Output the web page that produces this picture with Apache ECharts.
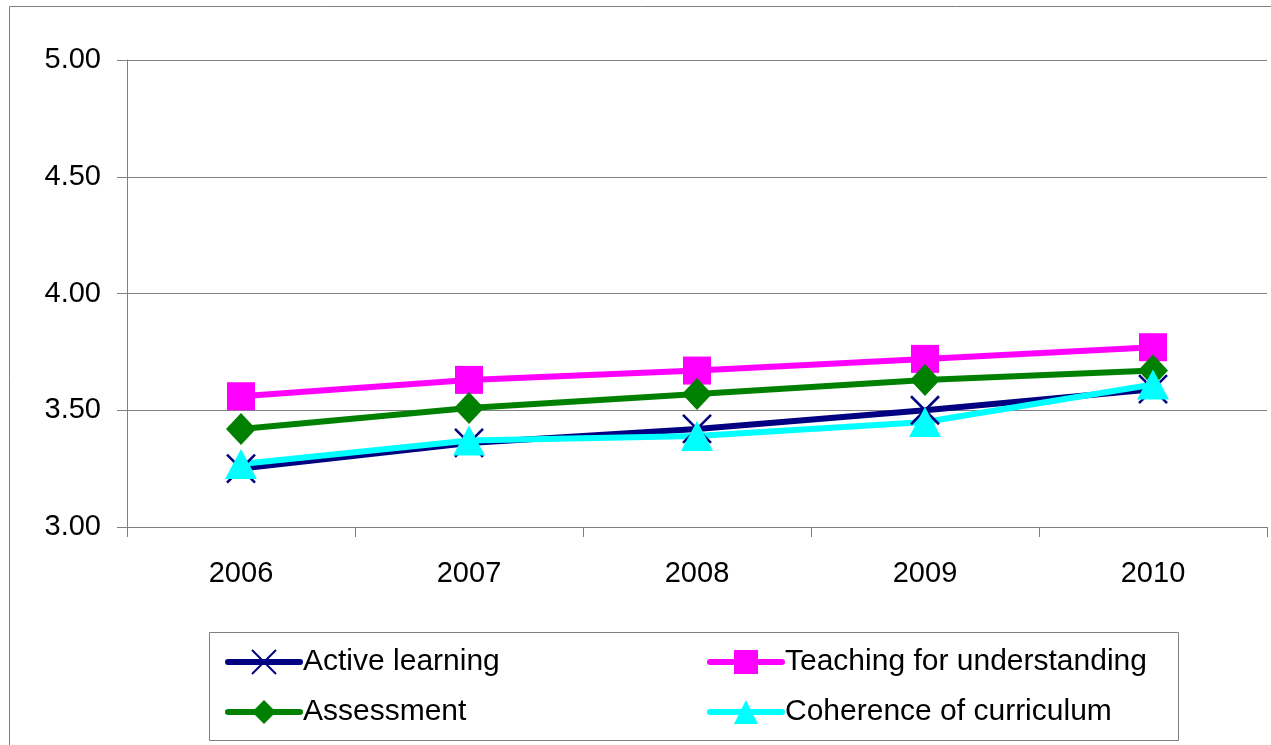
<!DOCTYPE html>
<html><head><meta charset="utf-8">
<script src="https://cdn.jsdelivr.net/npm/echarts@6/dist/echarts.min.js"></script>
<style>html,body{margin:0;padding:0;background:#fff}#c{width:1271px;height:745px}</style>
</head><body><div id="c"></div>
<script>
const categories = ['2006', '2007', '2008', '2009', '2010'];
const activeLearning = [3.25, 3.36, 3.42, 3.50, 3.59];
const teachingForUnderstanding = [3.56, 3.63, 3.67, 3.72, 3.77];
const assessment = [3.42, 3.51, 3.57, 3.63, 3.67];
const coherenceOfCurriculum = [3.27, 3.37, 3.39, 3.45, 3.61];
const yTicks = [3.0, 3.5, 4.0, 4.5, 5.0];

const chart = echarts.init(document.getElementById('c'));
const FONT = 'Liberation Sans, Arial, sans-serif';
function mk(name, data, color, symbol, size, extra) {
  return Object.assign({
    name, type: 'line', data, symbol, symbolSize: size,
    lineStyle: { color, width: 6 },
    itemStyle: { color },
    emphasis: { disabled: true },
    animation: false
  }, extra || {});
}
const legendCommon = {
  orient: 'vertical', top: 642, itemWidth: 72, itemHeight: 30, itemGap: 20,
  lineStyle: { width: 6, cap: 'round' },
  textStyle: { fontSize: 30, color: '#000', fontFamily: FONT, padding: [0, 0, 0, -2] }
};
chart.setOption({
  backgroundColor: '#fff',
  animation: false,
  textStyle: { fontFamily: FONT },
  grid: { left: 127, top: 60, right: 4, bottom: 218 },
  xAxis: {
    type: 'category', data: categories, boundaryGap: true,
    axisLine: { lineStyle: { color: '#808080', width: 1 } },
    axisTick: { show: true, length: 10, lineStyle: { color: '#808080' } },
    axisLabel: { color: '#000', fontSize: 29, margin: 32, fontFamily: FONT }
  },
  yAxis: {
    type: 'value', min: yTicks[0], max: yTicks[yTicks.length - 1], interval: 0.5,
    axisLine: { show: true, lineStyle: { color: '#808080', width: 1 } },
    axisTick: { show: true, length: 10, lineStyle: { color: '#808080' } },
    splitLine: { lineStyle: { color: '#808080', width: 1 } },
    axisLabel: { color: '#000', fontSize: 29, margin: 26, fontFamily: FONT,
      formatter: v => v.toFixed(2) }
  },
  legend: [
    Object.assign({ data: ['Active learning', 'Assessment'], left: 220 }, legendCommon),
    Object.assign({ data: ['Teaching for understanding', 'Coherence of curriculum'], left: 702 }, legendCommon)
  ],
  graphic: [
    { type: 'rect', shape: { x: 9.5, y: 6.5, width: 1300, height: 800 }, silent: true, z: -10,
      style: { fill: 'none', stroke: '#808080', lineWidth: 1 } },
    { type: 'rect', shape: { x: 209.5, y: 632.5, width: 969, height: 108 }, silent: true, z: -10,
      style: { fill: 'none', stroke: '#808080', lineWidth: 1 } }
  ],
  series: [
    mk('Active learning', activeLearning, '#000080', 'path://M0,0L10,10M10,0L0,10', 28,
      { itemStyle: { color: '#000080', borderColor: '#000080', borderWidth: 2.5 } }),
    mk('Teaching for understanding', teachingForUnderstanding, '#FF00FF', 'rect', 28),
    mk('Assessment', assessment, '#008000', 'diamond', [30, 32]),
    mk('Coherence of curriculum', coherenceOfCurriculum, '#00FFFF', 'triangle', [32, 30])
  ]
});
</script></body></html>
